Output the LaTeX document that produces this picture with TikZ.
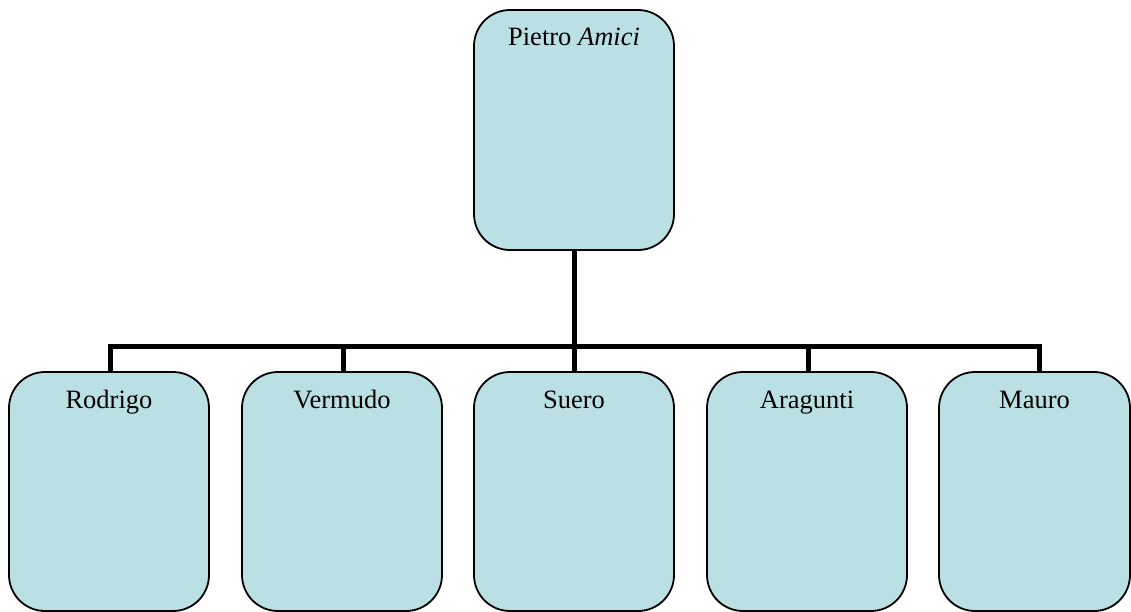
\documentclass[tikz,border=0pt]{standalone}
\usepackage{fontspec}
\setmainfont{Liberation Serif}
\usetikzlibrary{calc}
\definecolor{boxfill}{RGB}{187,224,227}
\begin{document}
\begin{tikzpicture}[x=1pt,y=-1pt,
  member/.style={draw=black, line width=1.8pt, fill=boxfill,
    rounded corners=36pt, minimum width=200pt, minimum height=240pt,
    inner sep=0pt, outer sep=0pt, anchor=north west},
  famname/.style={anchor=base, yshift=-36pt,
    font=\fontsize{26.5}{31}\selectfont},
  link/.style={draw=black, line width=5pt, line join=miter}]
\useasboundingbox (0,0) rectangle (1131,612);

% head of the family
\node[member, label={[famname]north:Pietro \textit{Amici}}] (pietro) at (474,10) {};

% children
\node[member, minimum height=239pt, label={[famname]north:Rodrigo}] (rodrigo) at (9,372) {};
\node[member, minimum height=239pt, label={[famname]north:Vermudo}] (vermudo) at (242,372) {};
\node[member, minimum height=239pt, label={[famname]north:Suero}] (suero) at (474,372) {};
\node[member, minimum height=239pt, label={[famname]north:Aragunti}] (aragunti) at (707,372) {};
\node[member, minimum height=239pt, minimum width=191pt, label={[famname]north:Mauro}] (mauro) at (939,372) {};

% connectors
\draw[link] (pietro.south) -- (pietro.south |- suero.north);
\draw[link] ($(rodrigo.north west)+(101,0)$) -- ++(0,-26)
  -| ($(mauro.north west)+(100,0)$);
\draw[link] ($(vermudo.north west)+(101,0)$) -- ++(0,-26);
\draw[link] ($(aragunti.north west)+(101,0)$) -- ++(0,-26);
\end{tikzpicture}
\end{document}
